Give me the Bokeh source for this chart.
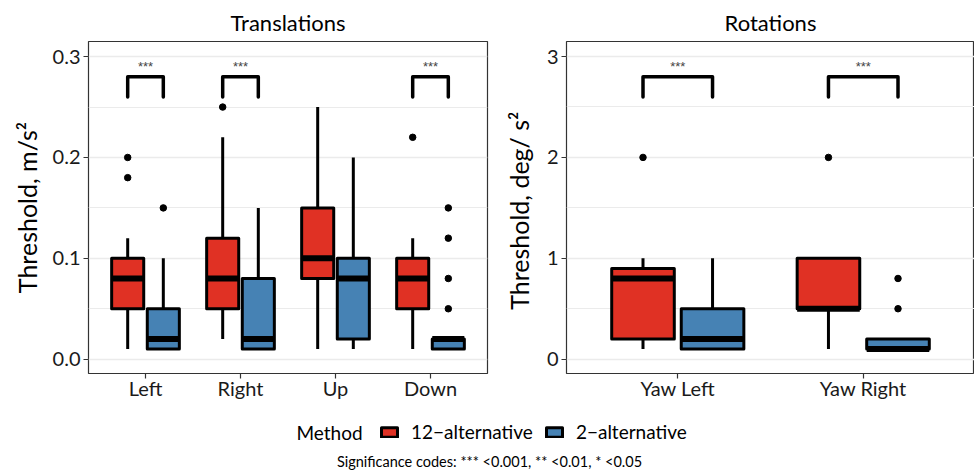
from bokeh.plotting import figure
from bokeh.models import Range1d, FixedTicker, NumeralTickFormatter, Label, Legend, LegendItem, ColumnDataSource
from bokeh.layouts import column, row
from bokeh.embed import file_html
from bokeh.resources import INLINE

# ---------------- data ----------------
methods = ["12\u2212alternative", "2\u2212alternative"]
method_colors = ["#E03124", "#4682B4"]

trans_cats = ["Left", "Right", "Up", "Down"]
trans_12_low = [0.01, 0.02, 0.01, 0.01]
trans_12_q1 = [0.05, 0.05, 0.08, 0.05]
trans_12_med = [0.08, 0.08, 0.10, 0.08]
trans_12_q3 = [0.10, 0.12, 0.15, 0.10]
trans_12_high = [0.12, 0.22, 0.25, 0.12]
trans_12_out_cat = ["Left", "Left", "Right", "Down"]
trans_12_out_val = [0.20, 0.18, 0.25, 0.22]

trans_2_low = [0.01, 0.01, 0.01, 0.01]
trans_2_q1 = [0.01, 0.01, 0.02, 0.01]
trans_2_med = [0.02, 0.02, 0.08, 0.02]
trans_2_q3 = [0.05, 0.08, 0.10, 0.02]
trans_2_high = [0.10, 0.15, 0.20, 0.02]
trans_2_out_cat = ["Left", "Down", "Down", "Down", "Down"]
trans_2_out_val = [0.15, 0.15, 0.12, 0.08, 0.05]

trans_sig_cats = ["Left", "Right", "Down"]
trans_sig_text = ["***", "***", "***"]
trans_sig_low = 0.26
trans_sig_high = 0.28
trans_sig_label_y = 0.29
trans_ticks = [0.0, 0.1, 0.2, 0.3]
trans_minor = [0.05, 0.15, 0.25]

rot_cats = ["Yaw Left", "Yaw Right"]
rot_12_low = [0.1, 0.1]
rot_12_q1 = [0.2, 0.5]
rot_12_med = [0.8, 0.5]
rot_12_q3 = [0.9, 1.0]
rot_12_high = [1.0, 1.0]
rot_12_out_cat = ["Yaw Left", "Yaw Right"]
rot_12_out_val = [2.0, 2.0]

rot_2_low = [0.1, 0.1]
rot_2_q1 = [0.1, 0.1]
rot_2_med = [0.2, 0.1]
rot_2_q3 = [0.5, 0.2]
rot_2_high = [1.0, 0.2]
rot_2_out_cat = ["Yaw Right", "Yaw Right"]
rot_2_out_val = [0.8, 0.5]

rot_sig_cats = ["Yaw Left", "Yaw Right"]
rot_sig_text = ["***", "***"]
rot_sig_low = 2.6
rot_sig_high = 2.8
rot_sig_label_y = 2.9
rot_ticks = [0, 1, 2, 3]
rot_minor = [0.5, 1.5, 2.5]

FONT = "Lato"
DODGE = 0.1875
HALF = 0.16875


def make_panel(cats, stats, outs, sig_cats, sig_text, sig_lo, sig_hi, sig_y,
               ylim, ticks, minor, fmt, title, ylabel, width, mb_left, mb_right, lbl_standoff):
    n = len(cats)
    p = figure(width=width, height=410, x_range=Range1d(0.4, n + 0.6), y_range=Range1d(*ylim),
               output_backend="svg", toolbar_location=None,
               min_border_left=mb_left, min_border_right=mb_right,
               min_border_top=41, min_border_bottom=37)
    p.background_fill_color = "white"
    p.border_fill_color = "white"
    p.outline_line_color = "#333333"
    p.outline_line_width = 1.2

    p.title.text = title
    p.title.align = "center"
    p.title.text_font = FONT
    p.title.text_font_size = "22px"
    p.title.text_font_style = "normal"
    p.title.text_color = "black"
    p.title.standoff = 12

    p.xgrid.visible = False
    p.ygrid.grid_line_color = "#EBEBEB"
    p.ygrid.grid_line_width = 1.5
    p.ygrid.minor_grid_line_color = "#EBEBEB"
    p.ygrid.minor_grid_line_width = 1.0

    p.yaxis.ticker = FixedTicker(ticks=ticks, minor_ticks=minor)
    p.yaxis.formatter = NumeralTickFormatter(format=fmt)
    p.xaxis.ticker = FixedTicker(ticks=list(range(1, n + 1)))
    p.xaxis.major_label_overrides = {i + 1: c for i, c in enumerate(cats)}
    for ax in (p.xaxis, p.yaxis):
        ax.axis_line_color = None
        ax.major_tick_line_color = "#333333"
        ax.major_tick_line_width = 1.2
        ax.major_tick_out = 5
        ax.major_tick_in = 0
        ax.minor_tick_line_color = None
        ax.major_label_text_font = FONT
        ax.major_label_text_font_size = "20px"
        ax.major_label_text_color = "#1a1a1a"
        ax.major_label_standoff = 3
    p.xaxis.major_label_standoff = -3
    p.yaxis.axis_label = ylabel
    p.yaxis.axis_label_text_font = FONT
    p.yaxis.axis_label_text_font_size = "25px"
    p.yaxis.axis_label_text_font_style = "normal"
    p.yaxis.axis_label_text_color = "black"
    p.yaxis.axis_label_standoff = lbl_standoff

    sources = []
    for k, (st, oc, ov) in enumerate(zip(stats, [o[0] for o in outs], [o[1] for o in outs])):
        sign = -1 if k == 0 else 1
        low, q1, med, q3, high = st
        xc = [i + 1 + sign * DODGE for i in range(n)]
        src = ColumnDataSource(dict(x=xc, left=[x - HALF for x in xc], right=[x + HALF for x in xc],
                                    low=low, q1=q1, med=med, q3=q3, high=high))
        sources.append(src)
        p.segment(x0="x", y0="q3", x1="x", y1="high", line_color="black", line_width=3, source=src)
        p.segment(x0="x", y0="q1", x1="x", y1="low", line_color="black", line_width=3, source=src)
        p.quad(left="left", right="right", bottom="q1", top="q3", fill_color=method_colors[k],
               line_color="black", line_width=3, line_join="round", source=src)
        p.segment(x0="left", y0="med", x1="right", y1="med", line_color="black", line_width=6,
                  source=src)
        ox = [cats.index(c) + 1 + sign * DODGE for c in oc]
        p.scatter(x=ox, y=ov, size=6.5, color="black")

    bx, by, tx = [], [], []
    for c in sig_cats:
        i = cats.index(c) + 1
        bx.append([i - DODGE, i - DODGE, i + DODGE, i + DODGE])
        by.append([sig_lo, sig_hi, sig_hi, sig_lo])
        tx.append(i)
    p.multi_line(xs=bx, ys=by, line_color="black", line_width=3.5, line_cap="round",
                 line_join="round")
    p.text(x=tx, y=[sig_y] * len(tx), text=sig_text, text_align="center", text_baseline="middle",
           text_font_size="13px", text_color="#444444")
    return p, sources


p1, trans_sources = make_panel(
    trans_cats,
    [(trans_12_low, trans_12_q1, trans_12_med, trans_12_q3, trans_12_high),
     (trans_2_low, trans_2_q1, trans_2_med, trans_2_q3, trans_2_high)],
    [(trans_12_out_cat, trans_12_out_val), (trans_2_out_cat, trans_2_out_val)],
    trans_sig_cats, trans_sig_text, trans_sig_low, trans_sig_high, trans_sig_label_y,
    (-0.0142, 0.315), trans_ticks, trans_minor, "0.0", "Translations",
    "Threshold, m/s\u00b2", 500, 88, 13, 8)

p2, rot_sources = make_panel(
    rot_cats,
    [(rot_12_low, rot_12_q1, rot_12_med, rot_12_q3, rot_12_high),
     (rot_2_low, rot_2_q1, rot_2_med, rot_2_q3, rot_2_high)],
    [(rot_12_out_cat, rot_12_out_val), (rot_2_out_cat, rot_2_out_val)],
    rot_sig_cats, rot_sig_text, rot_sig_low, rot_sig_high, rot_sig_label_y,
    (-0.142, 3.149), rot_ticks, rot_minor, "0", "Rotations",
    "Threshold, deg/  s\u00b2", 474, 60, 0, 10)

# legend panel
p3 = figure(width=974, height=62, x_range=Range1d(0, 974), y_range=Range1d(0, 62),
            output_backend="svg", toolbar_location=None,
            min_border_left=0, min_border_right=0, min_border_top=0, min_border_bottom=0)
p3.axis.visible = False
p3.grid.visible = False
p3.outline_line_color = None
p3.background_fill_color = "white"
p3.border_fill_color = "white"

items = []
for m, c, src in zip(methods, method_colors, trans_sources):
    r = p3.quad(left="left", right="right", bottom="q1", top="q3", fill_color=c,
                line_color="black", line_width=3, line_join="round", source=src, visible=False)
    items.append(LegendItem(label=m, renderers=[r]))
leg = Legend(items=items, orientation="horizontal", location=(379, 29),
             glyph_width=20, glyph_height=12, label_standoff=12, spacing=11,
             padding=0, margin=0, border_line_color=None, background_fill_alpha=0,
             label_text_font=FONT, label_text_font_size="19px", label_text_color="black",
             label_height=22, inactive_fill_alpha=0)
p3.add_layout(leg, "center")
p3.add_layout(Label(x=296, y=40, text="Method", text_font=FONT, text_font_size="19px",
                    text_baseline="middle", text_align="left", text_color="black"))
p3.add_layout(Label(x=489, y=11, text="Significance codes: *** <0.001, ** <0.01, * <0.05",
                    text_font=FONT, text_font_size="14.5px", text_baseline="middle",
                    text_align="center", text_color="black"))

layout = column(row(p1, p2), p3)

open("out.html", "w").write(file_html(layout, INLINE))
